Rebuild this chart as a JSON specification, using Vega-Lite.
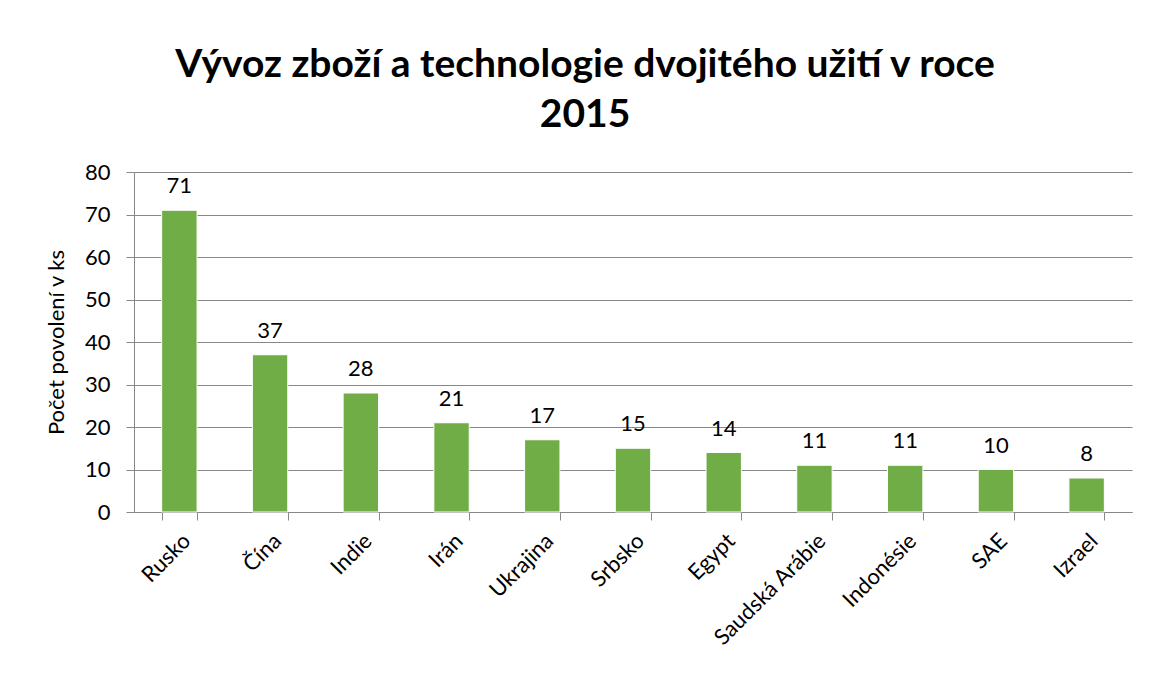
{
  "$schema": "https://vega.github.io/schema/vega-lite/v6.json",
  "autosize": "none",
  "width": 998,
  "height": 340,
  "padding": {"left": 134, "top": 172, "right": 17, "bottom": 167},
  "background": "white",
  "title": {
    "text": ["Vývoz zboží a technologie dvojitého užití v roce", "2015"],
    "font": "Lato",
    "fontSize": 39,
    "fontWeight": "bold",
    "color": "#000000",
    "lineHeight": 50,
    "anchor": "middle",
    "dx": -48,
    "offset": 26
  },
  "data": {
    "values": [
      {"zeme": "Rusko", "pocet": 71},
      {"zeme": "Čína", "pocet": 37},
      {"zeme": "Indie", "pocet": 28},
      {"zeme": "Irán", "pocet": 21},
      {"zeme": "Ukrajina", "pocet": 17},
      {"zeme": "Srbsko", "pocet": 15},
      {"zeme": "Egypt", "pocet": 14},
      {"zeme": "Saudská Arábie", "pocet": 11},
      {"zeme": "Indonésie", "pocet": 11},
      {"zeme": "SAE", "pocet": 10},
      {"zeme": "Izrael", "pocet": 8}
    ]
  },
  "encoding": {
    "x": {
      "field": "zeme",
      "type": "nominal",
      "sort": null,
      "scale": {"paddingInner": 0.61, "paddingOuter": 0.305},
      "axis": {
        "title": null,
        "labelAngle": -45,
        "labelFont": "Lato",
        "labelFontSize": 22,
        "labelColor": "#000000",
        "labelPadding": 10,
        "tickBand": "extent",
        "tickSize": 8,
        "tickColor": "#888888",
        "domainColor": "#888888",
        "grid": false
      }
    },
    "y": {
      "field": "pocet",
      "type": "quantitative",
      "scale": {"domain": [0, 80], "nice": false},
      "axis": {
        "title": "Počet povolení v ks",
        "titleFont": "Lato",
        "titleFontSize": 22,
        "titleFontWeight": "normal",
        "titleColor": "#000000",
        "titlePadding": 16,
        "values": [0, 10, 20, 30, 40, 50, 60, 70, 80],
        "labelFont": "Lato",
        "labelFontSize": 22,
        "labelColor": "#000000",
        "labelPadding": 16,
        "tickSize": 8,
        "tickColor": "#888888",
        "domainColor": "#888888",
        "gridColor": "#888888",
        "gridOpacity": 1
      }
    }
  },
  "layer": [
    {"mark": {"type": "bar", "color": "#70AD47", "stroke": "#ffffff", "strokeWidth": 1}},
    {
      "mark": {"type": "text", "font": "Lato", "fontSize": 22, "color": "#000000", "baseline": "bottom", "dy": -12},
      "encoding": {"text": {"field": "pocet", "type": "quantitative"}}
    }
  ],
  "config": {"view": {"stroke": null}}
}
